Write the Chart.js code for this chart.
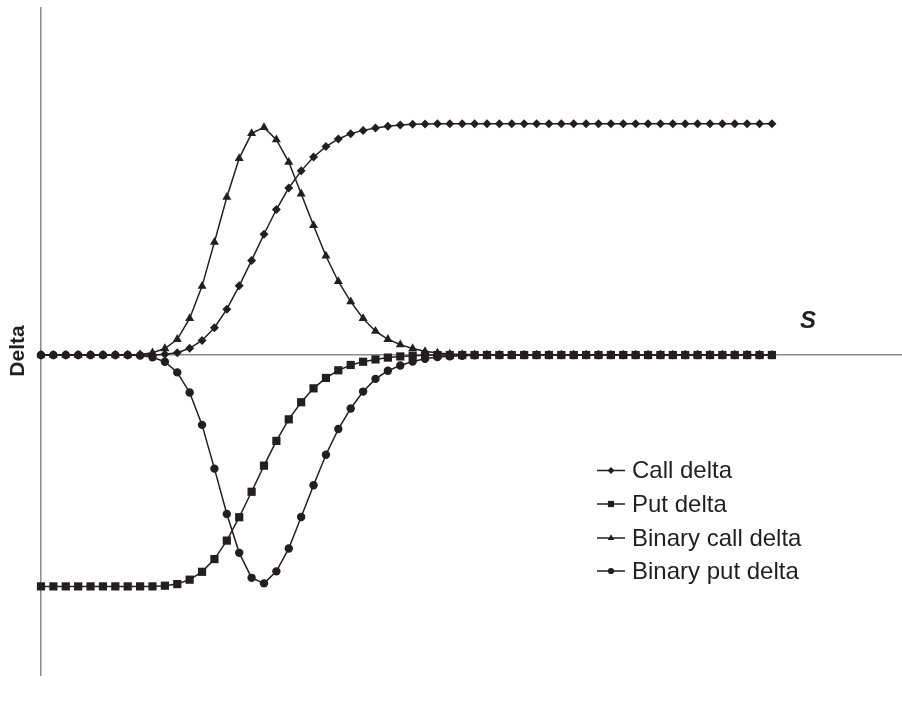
<!DOCTYPE html>
<html>
<head>
<meta charset="utf-8">
<script src="https://cdn.jsdelivr.net/npm/chart.js@4/dist/chart.umd.min.js"></script>
<style>
  html, body { margin: 0; padding: 0; background: #ffffff; }
  #wrap { width: 902px; height: 701px; position: relative; }
  canvas { display: block; }
</style>
</head>
<body>
<div id="wrap"><canvas id="c" width="902" height="701"></canvas></div>
<script>
// Spot price index (x positions of points)
const spotValues = [0,1,2,3,4,5,6,7,8,9,10,11,12,13,14,15,16,17,18,19,20,21,22,23,24,25,26,27,28,29,
                    30,31,32,33,34,35,36,37,38,39,40,41,42,43,44,45,46,47,48,49,50,51,52,53,54,55,56,57,58,59];

const seriesNames = ["Call delta", "Put delta", "Binary call delta", "Binary put delta"];

const callDelta = [0,0,0,0,0,0,0,0,0,0,
  0.003,0.01,0.029,0.063,0.118,0.198,0.299,0.409,0.522,0.629,0.722,0.796,0.856,0.901,0.934,0.957,0.971,0.981,0.989,0.994,0.997,0.999,
  1,1,1,1,1,1,1,1,1,1,1,1,1,1,1,1,1,1,1,1,1,1,1,1,1,1,1,1];

const putDelta = [-1,-1,-1,-1,-1,-1,-1,-1,-1,-1,
  -0.997,-0.99,-0.971,-0.937,-0.882,-0.802,-0.701,-0.591,-0.478,-0.371,-0.278,-0.204,-0.144,-0.099,-0.066,-0.043,-0.029,-0.019,-0.011,-0.006,-0.003,-0.001,
  0,0,0,0,0,0,0,0,0,0,0,0,0,0,0,0,0,0,0,0,0,0,0,0,0,0,0,0];

const binaryCallDelta = [0,0,0,0,0,0,0,0,
  0.002,0.01,0.028,0.068,0.158,0.298,0.488,0.682,0.85,0.958,0.984,0.931,0.834,0.697,0.56,0.428,0.318,0.231,0.158,0.103,0.068,0.045,0.028,0.016,0.009,0.005,0.003,0.001,
  0,0,0,0,0,0,0,0,0,0,0,0,0,0,0,0,0,0,0,0,0,0,0,0];

const binaryPutDelta = [0,0,0,0,0,0,0,0,
  -0.002,-0.01,-0.029,-0.075,-0.162,-0.302,-0.491,-0.687,-0.855,-0.963,-0.987,-0.935,-0.836,-0.70,-0.563,-0.431,-0.32,-0.231,-0.158,-0.103,-0.068,-0.045,-0.028,-0.016,-0.009,-0.005,-0.003,-0.001,
  0,0,0,0,0,0,0,0,0,0,0,0,0,0,0,0,0,0,0,0,0,0,0,0];

const INK = '#231f20';
const AXIS = '#8c8c8c';

function pts(arr) { return spotValues.map((s, i) => ({ x: s, y: arr[i] })); }

const styles = [
  { pointStyle: 'rectRot', radius: 4.5 },
  { pointStyle: 'rect', radius: 5.8 },
  { pointStyle: 'triangle', radius: 5.2 },
  { pointStyle: 'circle', radius: 4.2 }
];
const seriesData = [callDelta, putDelta, binaryCallDelta, binaryPutDelta];

const datasets = seriesNames.map((name, k) => ({
  label: name,
  data: pts(seriesData[k]),
  borderColor: INK,
  backgroundColor: INK,
  borderWidth: 1.5,
  pointStyle: styles[k].pointStyle,
  pointRadius: styles[k].radius,
  pointBorderWidth: 0,
  pointBackgroundColor: INK,
  pointBorderColor: INK,
  tension: 0,
  fill: false,
  clip: false
}));

const labelsPlugin = {
  id: 'labelsPlugin',
  afterDraw(chart) {
    const ctx = chart.ctx;
    ctx.save();
    ctx.fillStyle = INK;
    ctx.font = 'bold 21px "Liberation Sans", Arial, sans-serif';
    ctx.textAlign = 'center';
    ctx.textBaseline = 'middle';
    ctx.translate(18, 351);
    ctx.rotate(-Math.PI / 2);
    ctx.fillText('Delta', 0, 0);
    ctx.restore();

    ctx.save();
    ctx.fillStyle = INK;
    ctx.font = 'italic bold 24px "Liberation Sans", Arial, sans-serif';
    ctx.textAlign = 'center';
    ctx.textBaseline = 'middle';
    ctx.fillText('S', 808, 321);
    ctx.restore();

    const rowsY = [470.5, 504, 538, 571];
    const legendStyles = [
      { pointStyle: 'rectRot', radius: 3.4 },
      { pointStyle: 'rect', radius: 4.4 },
      { pointStyle: 'triangle', radius: 3.8 },
      { pointStyle: 'circle', radius: 3.1 }
    ];
    ctx.save();
    seriesNames.forEach((name, k) => {
      const y = rowsY[k];
      ctx.strokeStyle = INK;
      ctx.lineWidth = 1.5;
      ctx.beginPath();
      ctx.moveTo(597, y);
      ctx.lineTo(625, y);
      ctx.stroke();
      ctx.fillStyle = INK;
      ctx.strokeStyle = INK;
      ctx.lineWidth = 0;
      if (Chart.helpers && Chart.helpers.drawPoint) {
        Chart.helpers.drawPoint(ctx, { pointStyle: legendStyles[k].pointStyle, radius: legendStyles[k].radius, borderWidth: 0, rotation: 0 }, 611, y);
      } else {
        ctx.beginPath(); ctx.arc(611, y, 3, 0, Math.PI * 2); ctx.fill();
      }
      ctx.fillStyle = INK;
      ctx.font = '24px "Liberation Sans", Arial, sans-serif';
      ctx.textAlign = 'left';
      ctx.textBaseline = 'middle';
      ctx.fillText(name, 632, y + 1);
    });
    ctx.restore();
  }
};

new Chart(document.getElementById('c'), {
  type: 'line',
  data: { datasets },
  options: {
    responsive: false,
    animation: false,
    events: [],
    layout: { autoPadding: false, padding: { left: 33, right: 0, top: 8, bottom: 26 } },
    plugins: { legend: { display: false }, tooltip: { enabled: false } },
    scales: {
      x: {
        type: 'linear',
        min: 0,
        max: 69.5,
        position: { y: 0 },
        grid: { display: false },
        ticks: { display: false },
        border: { display: true, color: AXIS, width: 1.5 }
      },
      y: {
        type: 'linear',
        min: -1.383,
        max: 1.5,
        position: 'left',
        grid: { display: false },
        ticks: { display: false },
        border: { display: true, color: AXIS, width: 1.5 }
      }
    }
  },
  plugins: [labelsPlugin]
});
</script>
</body>
</html>
